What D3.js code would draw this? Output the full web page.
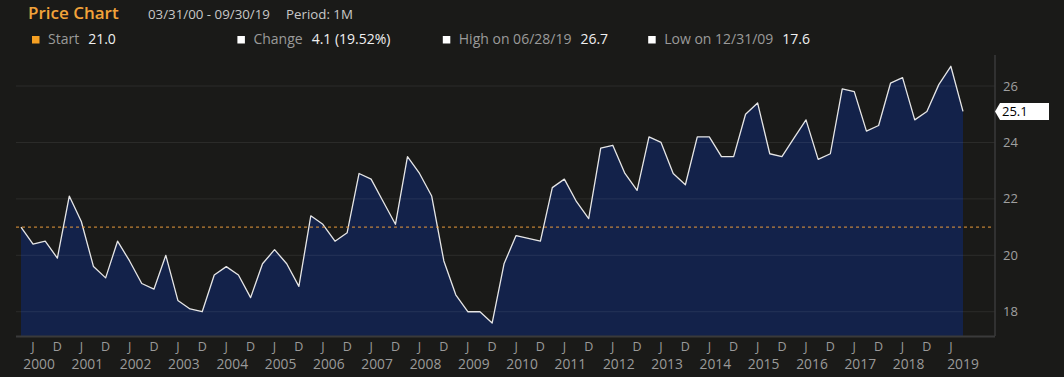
<!DOCTYPE html>
<html>
<head>
<meta charset="utf-8">
<script src="https://cdn.jsdelivr.net/npm/d3@7"></script>
<style>
html, body { margin: 0; background: #1a1a18; }
svg { display: block; font-family: "Open Sans", sans-serif; }
</style>
</head>
<body>
<svg id="chart"></svg>
<script>
// quarterly closes, Mar 2000 .. Sep 2019
const prices = [
    21.0, 20.4, 20.5, 19.9,
    22.1, 21.2, 19.6, 19.2,
    20.5, 19.8, 19.0, 18.8,
    20.0, 18.4, 18.1, 18.0,
    19.3, 19.6, 19.3, 18.5,
    19.7, 20.2, 19.7, 18.9,
    21.4, 21.1, 20.5, 20.8,
    22.9, 22.7, 21.9, 21.1,
    23.5, 22.9, 22.1, 19.8,
    18.6, 18.0, 18.0, 17.6,
    19.7, 20.7, 20.6, 20.5,
    22.4, 22.7, 21.9, 21.3,
    23.8, 23.9, 22.9, 22.3,
    24.2, 24.0, 22.9, 22.5,
    24.2, 24.2, 23.5, 23.5,
    25.0, 25.4, 23.6, 23.5,
    24.15, 24.8, 23.4, 23.6,
    25.9, 25.8, 24.4, 24.6,
    26.1, 26.3, 24.8, 25.1,
    26.05, 26.7, 25.1
];
const startYear = 2000;
const years = d3.range(2000, 2020);
const yTicks = [18, 20, 22, 24, 26];
const startValue = 21.0;
const lastValue = 25.1;
const titleText = "Price Chart";
const rangeText = "03/31/00 - 09/30/19";
const periodText = "Period: 1M";
const statLabels = ["Start", "Change", "High on 06/28/19", "Low on 12/31/09"];
const statValues = ["21.0", "4.1 (19.52%)", "26.7", "17.6"];
const statColors = ["#f5a023", "#ffffff", "#ffffff", "#ffffff"];

const W = 1064, H = 377;
const frame = { left: 16, right: 995, top: 55, bottom: 336 };

const svg = d3.select("#chart").attr("width", W).attr("height", H);
svg.append("rect").attr("width", W).attr("height", H).attr("fill", "#1a1a18");

// quarter-end dates (day 0 of next month = last day of quarter)
const data = prices.map((v, i) => ({ date: new Date(Date.UTC(startYear, 3 + 3 * i, 0)), value: v }));

const x = d3.scaleUtc()
    .domain([data[0].date, data[data.length - 1].date])
    .range([21, 963]);

const y = d3.scaleLinear()
    .domain([17.14, 27.1])
    .range([frame.bottom, frame.top]);

// area + line
svg.append("path")
    .datum(data)
    .attr("fill", "#13224a")
    .attr("d", d3.area().x(d => x(d.date)).y0(frame.bottom).y1(d => y(d.value)));

// grid
svg.append("g")
    .selectAll("line")
    .data(yTicks)
    .enter().append("line")
    .attr("x1", frame.left).attr("x2", frame.right)
    .attr("y1", d => y(d)).attr("y2", d => y(d))
    .attr("stroke", "rgba(255,255,255,0.08)")
    .attr("stroke-width", 1);

svg.append("path")
    .datum(data)
    .attr("fill", "none")
    .attr("stroke", "#e6e6e6")
    .attr("stroke-width", 1.3)
    .attr("stroke-linejoin", "round")
    .attr("d", d3.line().x(d => x(d.date)).y(d => y(d.value)));

// start reference line
svg.append("line")
    .attr("x1", frame.left).attr("x2", frame.right - 3)
    .attr("y1", y(startValue)).attr("y2", y(startValue))
    .attr("stroke", "#e89a3c")
    .attr("stroke-width", 1)
    .attr("stroke-dasharray", "3,3");

// frame axes
svg.append("line")
    .attr("x1", frame.left).attr("x2", frame.right)
    .attr("y1", frame.bottom + 0.5).attr("y2", frame.bottom + 0.5)
    .attr("stroke", "#3a3a3a").attr("stroke-width", 2);
svg.append("line")
    .attr("x1", frame.right).attr("x2", frame.right)
    .attr("y1", frame.top).attr("y2", frame.bottom)
    .attr("stroke", "#3a3a3a").attr("stroke-width", 1.5);

// right axis labels
svg.append("g")
    .selectAll("text")
    .data(yTicks)
    .enter().append("text")
    .attr("x", frame.right + 8)
    .attr("y", d => y(d))
    .attr("dy", "0.35em")
    .attr("fill", "#a0a0a0")
    .style("font-size", "13px")
    .text(d => d);

// last value tag
const ly = y(lastValue);
svg.append("path")
    .attr("d", `M${frame.right},${ly} L${frame.right + 5},${ly - 8.5} L${frame.right + 54},${ly - 8.5} L${frame.right + 54},${ly + 8.5} L${frame.right + 5},${ly + 8.5} Z`)
    .attr("fill", "#ffffff");
svg.append("text")
    .attr("x", frame.right + 7)
    .attr("y", ly)
    .attr("dy", "0.36em")
    .attr("fill", "#000")
    .style("font-size", "13px")
    .text(lastValue.toFixed(1));

// x labels: J / D and years
const last = data[data.length - 1].date;
const halfTicks = [];
years.forEach(yr => {
    halfTicks.push({ date: new Date(Date.UTC(yr, 5, 30)), label: "J" });
    halfTicks.push({ date: new Date(Date.UTC(yr, 11, 31)), label: "D" });
});
svg.append("g")
    .selectAll("text")
    .data(halfTicks.filter(d => d.date <= last))
    .enter().append("text")
    .attr("x", d => x(d.date))
    .attr("y", 350.5)
    .attr("text-anchor", "middle")
    .attr("fill", "#9a9a9a")
    .style("font-size", "12.5px")
    .text(d => d.label);

svg.append("g")
    .selectAll("text")
    .data(years)
    .enter().append("text")
    .attr("x", yr => {
        const dec = new Date(Date.UTC(yr, 11, 31));
        return dec <= last ? x(new Date(Date.UTC(yr, 5, 30))) + 6 : x(last);
    })
    .attr("y", 368.5)
    .attr("text-anchor", "middle")
    .attr("fill", "#9a9a9a")
    .style("font-size", "13.8px")
    .text(yr => yr);

// header
svg.append("text")
    .attr("x", 28).attr("y", 19)
    .attr("fill", "#f2a33a")
    .style("font-size", "17px")
    .style("font-weight", 600)
    .text(titleText);
svg.append("text")
    .attr("x", 148).attr("y", 19)
    .attr("fill", "#c8c8c8")
    .style("font-size", "13.3px")
    .text(rangeText);
svg.append("text")
    .attr("x", 286).attr("y", 19)
    .attr("fill", "#c8c8c8")
    .style("font-size", "13.3px")
    .text(periodText);

const stats = svg.append("g");
statLabels.forEach((lab, i) => {
    const x0 = 32 + i * 205.4;
    stats.append("rect")
        .attr("x", x0).attr("y", 36)
        .attr("width", 7.5).attr("height", 7.5)
        .attr("fill", statColors[i]);
    const t = stats.append("text")
        .attr("x", x0 + 16).attr("y", 44)
        .attr("fill", "#9a9a9a")
        .style("font-size", "14px")
        .text(lab);
    const w = t.node().getComputedTextLength();
    stats.append("text")
        .attr("x", x0 + 16 + w + 9).attr("y", 44)
        .attr("fill", "#f0f0f0")
        .style("font-size", "14px")
        .text(statValues[i]);
});
</script>
</body>
</html>
